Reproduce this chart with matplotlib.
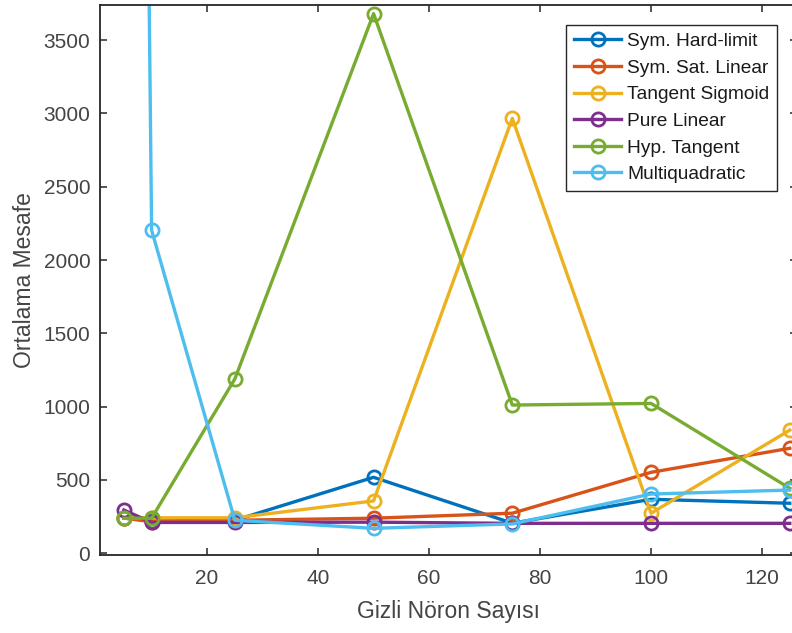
import matplotlib
matplotlib.use("Agg")
import matplotlib.pyplot as plt
from matplotlib.ticker import MultipleLocator

plt.rcParams['font.family'] = ['Liberation Sans', 'DejaVu Sans']

# ---- data ----
neurons = [5, 10, 25, 50, 75, 100, 125]
sym_hard_limit = [240, 220, 225, 518, 205, 368, 341]
sym_sat_linear = [240, 215, 225, 239, 273, 552, 716]
tangent_sigmoid = [240, 242, 242, 357, 2967, 273, 840]
pure_linear = [295, 210, 210, 212, 204, 204, 204]
hyp_tangent = [239, 239, 1189, 3681, 1011, 1022, 443]
multiquadratic = [20000, 2204, 225, 170, 200, 404, 431]

series_names = ["Sym. Hard-limit", "Sym. Sat. Linear", "Tangent Sigmoid",
                "Pure Linear", "Hyp. Tangent", "Multiquadratic"]
series_values = [sym_hard_limit, sym_sat_linear, tangent_sigmoid,
                 pure_linear, hyp_tangent, multiquadratic]
colors = ["#0072BD", "#D95319", "#EDB120", "#7E2F8E", "#77AC30", "#4DBEEE"]

x_label = "Gizli Nöron Sayısı"
y_label = "Ortalama Mesafe"

# ---- figure ----
W, H = 792, 633
fig = plt.figure(figsize=(W / 100, H / 100), dpi=100)
left_px, right_px, top_px, bottom_px = 100, 797, 5, 555
ax = fig.add_axes([left_px / W, 1 - bottom_px / H,
                   (right_px - left_px) / W, (bottom_px - top_px) / H])

for name, vals, c in zip(series_names, series_values, colors):
    ax.plot(neurons, vals, color=c, linewidth=2.4, marker='o',
            markersize=9.5, markerfacecolor='none', markeredgewidth=2.0,
            label=name)

ax.set_xlim(0.7, 126.3)
ax.set_ylim(-12, 3740)
ax.xaxis.set_major_locator(MultipleLocator(20))
ax.yaxis.set_major_locator(MultipleLocator(500))
ax.set_xticks([20, 40, 60, 80, 100, 120])

axis_color = '#262626'
for s in ax.spines.values():
    s.set_color(axis_color)
    s.set_linewidth(1.3)
ax.tick_params(direction='in', top=True, right=True, length=5, width=1.1,
               colors=axis_color, labelsize=15)
ax.tick_params(axis='x', pad=10)
ax.tick_params(axis='y', pad=7)
for lbl in ax.get_xticklabels() + ax.get_yticklabels():
    lbl.set_color('#444444')

ax.set_xlabel(x_label, fontsize=16.5, color='#444444', labelpad=9)
ax.set_ylabel(y_label, fontsize=16.5, color='#444444', labelpad=5)

leg = ax.legend(loc='upper right', bbox_to_anchor=(777 / W, 1 - 25 / H),
                bbox_transform=fig.transFigure, fontsize=13.8,
                frameon=True, fancybox=False, framealpha=1,
                edgecolor=axis_color, handlelength=2.5, handletextpad=0.3,
                labelspacing=0.48, borderpad=0.4, borderaxespad=0)
leg.get_frame().set_linewidth(1.0)
for t in leg.get_texts():
    t.set_color('#1a1a1a')

fig.savefig("out.png", dpi=100)
